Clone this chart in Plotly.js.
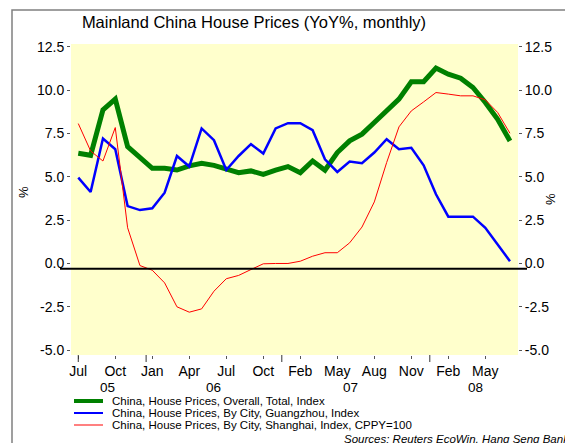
<!DOCTYPE html>
<html>
<head>
<meta charset="utf-8">
<script src="https://cdn.plot.ly/plotly-3.0.1.min.js"></script>
<style>
html,body{margin:0;padding:0;background:#fff;}
#chart{width:565px;height:443px;}
</style>
</head>
<body>
<div id="chart"></div>
<script>
// Observation index (monthly, Jul 2005 .. Jul 2008; Dec 2006 not reported)
const obsIndex = [1,2,3,4,5,6,7,8,9,10,11,12,13,14,15,16,17,18,19,20,21,22,23,24,25,26,27,28,29,30,31,32,33,34,35,36];

const overall = [6.36,6.24,8.86,9.48,6.74,6.16,5.49,5.49,5.39,5.63,5.78,5.66,5.43,5.24,5.34,5.14,5.38,5.59,5.24,5.91,5.38,6.40,7.07,7.46,8.13,8.80,9.48,10.48,10.48,11.27,10.92,10.69,10.15,9.29,8.32,7.07];
const guangzhou = [4.95,4.12,7.21,6.59,3.31,3.08,3.18,4.08,6.20,5.59,7.79,7.11,5.39,6.20,6.88,6.34,7.79,8.09,8.09,7.69,6.01,5.28,5.88,5.78,6.40,7.17,6.59,6.67,5.66,3.99,2.70,2.70,2.70,2.06,1.10,0.13];
const shanghai = [8.07,6.49,5.91,7.84,2.06,-0.12,-0.39,-1.12,-2.50,-2.81,-2.62,-1.60,-0.88,-0.69,-0.35,-0.02,0.0,0.0,0.13,0.42,0.62,0.62,1.19,2.10,3.55,5.82,7.88,8.80,9.32,9.86,9.77,9.67,9.67,9.44,8.71,7.51];

const seriesNames = [
  "China, House Prices, Overall, Total, Index",
  "China, House Prices, By City, Guangzhou, Index",
  "China, House Prices, By City, Shanghai, Index, CPPY=100"
];

const monthTickVals = [1,4,7,10,13,16,19,22,25,28,31,34];
const monthTickText = ["Jul","Oct","Jan","Apr","Jul","Oct","Feb","May","Aug","Nov","Feb","May"];
const yearLabels = ["05","06","07","08"];
const yearLabelPos = [3.4,12.0,23.1,33.2];
const yearBoundaryTicks = [1,6.5,17.5,29.5];

const yTickVals = [-5,-2.5,0,2.5,5,7.5,10,12.5];
const yTickText = ["-5.0","-2.5","0.0","2.5","5.0","7.5","10.0","12.5"];

const baseLineValue = -0.3;

// pixel helpers for plot area (l=71, r=518, t=44, b=355)
const L=71, R=518, T=44, B=355;
const px = v => (v - L) / (R - L);
const py = v => (B - v) / (B - T);

const FONT = "Liberation Sans, Arial, sans-serif";
const colors = ["#008000","#0000ff","#ff0000"];

const traces = [
  {x: obsIndex, y: overall, name: seriesNames[0], type:"scatter", mode:"lines",
   line:{color:colors[0], width:5}, yaxis:"y"},
  {x: obsIndex, y: guangzhou, name: seriesNames[1], type:"scatter", mode:"lines",
   line:{color:colors[1], width:2.5}, yaxis:"y"},
  {x: obsIndex, y: shanghai, name: seriesNames[2], type:"scatter", mode:"lines",
   line:{color:colors[2], width:1}, yaxis:"y2"}
];

const yRange = [-5.28, 12.66];

const shapes = [
  // outer frame (top & left edges visible)
  {type:"rect", xref:"paper", yref:"paper", x0:px(12), x1:px(640), y0:py(520), y1:py(10),
   line:{color:"#808080", width:1.5}, fillcolor:"rgba(0,0,0,0)", layer:"below"},
  // base line
  {type:"line", xref:"paper", yref:"y", x0:px(60), x1:px(527), y0:baseLineValue, y1:baseLineValue,
   line:{color:"#000", width:2}}
];
yearBoundaryTicks.forEach(v => shapes.push({type:"line", xref:"x", yref:"paper", x0:v, x1:v,
  y0:0, y1:-7/(B-T), line:{color:"#333", width:1}}));

// legend drawn manually
const legendRowsY = [401, 413, 425];
const legendColors = ["#008000","#0000ff","#ff8080"];
const legendWidths = [4,2,2];
for (let i=0;i<3;i++) {
  shapes.push({type:"line", xref:"paper", yref:"paper", x0:px(74), x1:px(103),
    y0:py(legendRowsY[i]), y1:py(legendRowsY[i]), line:{color:legendColors[i], width:legendWidths[i]}});
}

const annotations = [];
for (let i=0;i<3;i++) {
  annotations.push({xref:"paper", yref:"paper", x:px(110), y:py(legendRowsY[i]-0.5),
    xanchor:"left", yanchor:"middle", showarrow:false, text:seriesNames[i],
    font:{family:FONT, size:11.5, color:"#000"}});
}
yearLabels.forEach((t,i) => annotations.push({xref:"x", yref:"paper", x:yearLabelPos[i], y:py(387.5),
  xanchor:"center", yanchor:"middle", showarrow:false, text:t, font:{family:FONT, size:13.5, color:"#000"}}));
annotations.push({xref:"paper", yref:"paper", x:px(23), y:py(192), textangle:-90, showarrow:false,
  xanchor:"center", yanchor:"middle", text:"%", font:{family:FONT, size:13, color:"#000"}});
annotations.push({xref:"paper", yref:"paper", x:px(550), y:py(199), textangle:-90, showarrow:false,
  xanchor:"center", yanchor:"middle", text:"%", font:{family:FONT, size:13, color:"#000"}});
annotations.push({xref:"paper", yref:"paper", x:px(342), y:py(438.5), showarrow:false,
  xanchor:"left", yanchor:"middle", text:"<i>Sources: Reuters EcoWin, Hang Seng Bank</i>",
  font:{family:FONT, size:11.5, color:"#000"}});

const axisY = {
  range: yRange, tickmode:"array", tickvals: yTickVals, ticktext: yTickText,
  ticks:"outside", ticklen:3, tickcolor:"#555", tickwidth:1,
  showgrid:false, zeroline:false, showline:false,
  tickfont:{family:FONT, size:14, color:"#000"}
};

const layout = {
  width:565, height:443,
  margin:{l:L, r:565-R, t:T, b:443-B, pad:0},
  paper_bgcolor:"#ffffff", plot_bgcolor:"#ffffcc",
  showlegend:false,
  title:{text:"Mainland China House Prices (YoY%, monthly)", xref:"paper", x:px(254), xanchor:"center",
    yref:"container", y:1-22/443, yanchor:"middle", font:{family:FONT, size:16.5, color:"#000"}},
  xaxis:{range:[0.41,36.65], tickmode:"array", tickvals:monthTickVals, ticktext:monthTickText,
    ticks:"outside", ticklen:3, tickcolor:"#555", showgrid:false, zeroline:false, showline:false,
    tickfont:{family:FONT, size:14, color:"#000"}},
  yaxis: Object.assign({side:"left"}, axisY),
  yaxis2: Object.assign({side:"right", overlaying:"y"}, axisY),
  shapes: shapes,
  annotations: annotations
};

Plotly.newPlot("chart", traces, layout, {staticPlot:true, displayModeBar:false});
</script>
</body>
</html>
